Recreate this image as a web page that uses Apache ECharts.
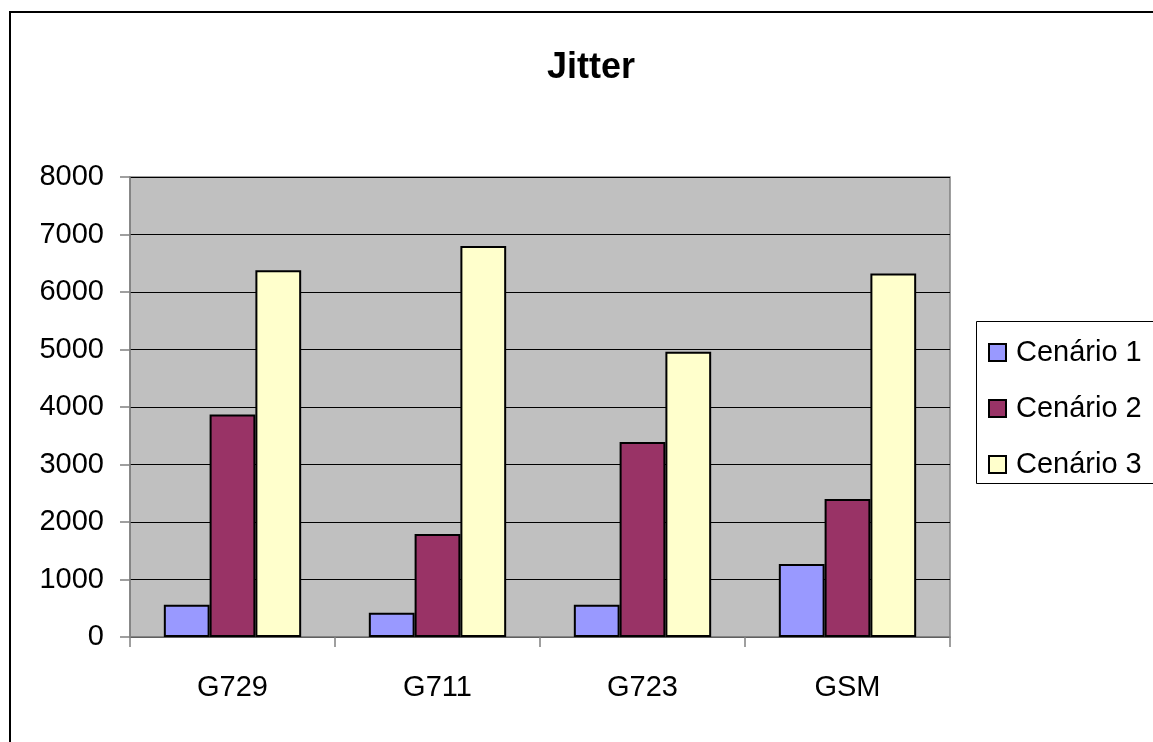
<!DOCTYPE html>
<html>
<head>
<meta charset="utf-8">
<script src="https://cdn.jsdelivr.net/npm/echarts@6/dist/echarts.min.js"></script>
<style>html,body{margin:0;padding:0;background:#fff;}#c{width:1153px;height:742px;}</style>
</head>
<body>
<div id="c"></div>
<script>
const categories = ['G729', 'G711', 'G723', 'GSM'];
const seriesNames = ['Cenário 1', 'Cenário 2', 'Cenário 3'];
const cenario1 = [560, 420, 560, 1270];
const cenario2 = [3870, 1790, 3390, 2400];
const cenario3 = [6380, 6800, 4960, 6320];
const colors = ['#9999ff', '#993366', '#ffffcc'];

const chart = echarts.init(document.getElementById('c'));
const font = '"Liberation Sans", Arial, sans-serif';
const values = [cenario1, cenario2, cenario3];
chart.setOption({
  animation: false,
  backgroundColor: '#ffffff',
  title: {
    text: 'Jitter', left: 586, top: 45, textAlign: 'center',
    textStyle: { fontFamily: font, fontSize: 36, fontWeight: 'bold', color: '#000' }
  },
  graphic: [
    { type: 'rect', shape: { x: 10, y: 12, width: 1200, height: 800 }, style: { fill: 'none', stroke: '#000', lineWidth: 2 }, z: 100 },
    { type: 'rect', shape: { x: 976.5, y: 321.5, width: 200, height: 162 }, style: { fill: '#fff', stroke: '#000', lineWidth: 1 }, z: 0 }
  ],
  legend: {
    orient: 'vertical', left: 988, top: 338, padding: 0, itemWidth: 17, itemHeight: 17, itemGap: 27,
    icon: 'rect', z: 10,
    textStyle: { fontFamily: font, fontSize: 29, color: '#000', padding: [0, 0, 0, 5] },
    data: seriesNames
  },
  grid: {
    left: 130, right: 203, top: 177, bottom: 105, show: true,
    backgroundColor: '#c0c0c0', borderColor: '#808080', borderWidth: 1.5
  },
  xAxis: {
    type: 'category', data: categories,
    axisLine: { lineStyle: { color: '#808080', width: 1.5 } },
    axisTick: { show: true, length: 10, lineStyle: { color: '#808080', width: 1.5 } },
    axisLabel: { fontFamily: font, fontSize: 29, color: '#000', margin: 36 }
  },
  yAxis: {
    type: 'value', min: 0, max: 8000, interval: 1000,
    axisLine: { show: true, lineStyle: { color: '#808080', width: 1.5 } },
    axisTick: { show: true, length: 10, lineStyle: { color: '#808080', width: 1.5 } },
    axisLabel: { fontFamily: font, fontSize: 29, color: '#000', margin: 26, formatter: v => String(v) },
    splitLine: { lineStyle: { color: '#000', width: 1 } }
  },
  series: seriesNames.map((n, i) => ({
    name: n, type: 'bar', data: values[i],
    barGap: '0%', barCategoryGap: '33%',
    itemStyle: { color: colors[i], borderColor: '#000', borderWidth: 2 }
  }))
});
</script>
</body>
</html>
